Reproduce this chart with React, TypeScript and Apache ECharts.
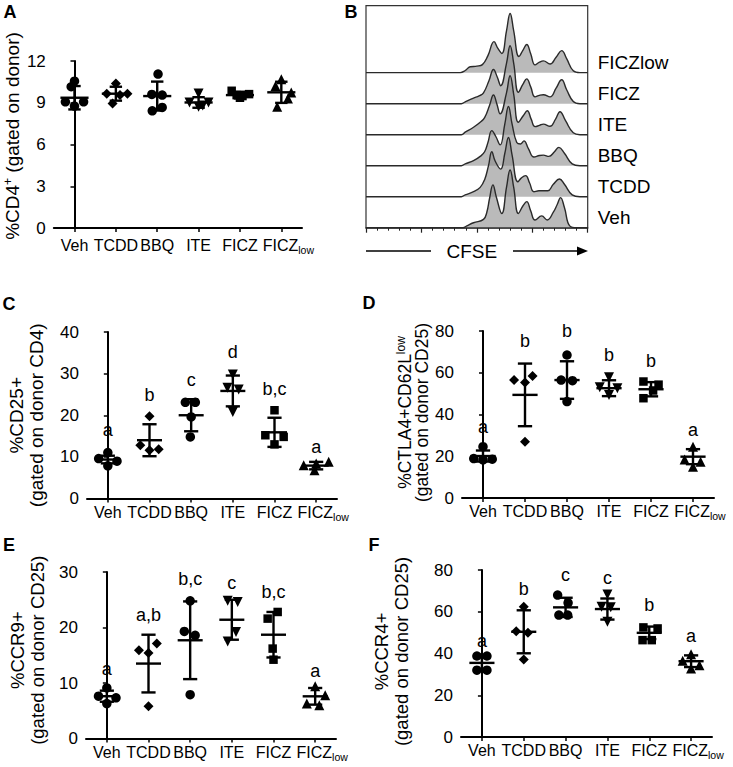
import React, { useEffect, useRef } from 'react';
import * as echarts from 'echarts';

const FONT = '"Liberation Sans", Arial, Helvetica, sans-serif';

// ---------- categories & markers ----------
const groups = ['Veh', 'TCDD', 'BBQ', 'ITE', 'FICZ', 'FICZlow'];
const groupSymbols = ['circle', 'diamond', 'circle', 'triangle', 'rect', 'triangle'];
const groupRotate = [0, 0, 0, 180, 0, 0];
const groupSizes = [9.5, 10, 9.5, 10, 8.5, 10];

// ---------- Panel A: %CD4+ (gated on donor) ----------
const cd4Values = [
  [10.55, 10.15, 9.07, 9.07, 8.76],
  [10.39, 9.65, 9.65, 9.55, 8.95],
  [11.06, 9.6, 9.55, 8.42, 8.66],
  [9.67, 9.02, 9.02, 8.71, 8.8],
  [9.86, 9.55, 9.48, 9.62, 9.36],
  [10.68, 10.2, 9.74, 9.31, 8.71],
];
const cd4Jitter = [
  [0, -0.08, -0.22, 0.22, 0],
  [0, -0.22, 0.28, 0.1, -0.08],
  [0.02, -0.13, 0.12, -0.12, 0.12],
  [0, -0.22, 0.24, 0, 0.1],
  [-0.2, -0.08, 0.06, 0.22, 0],
  [0, -0.14, 0.24, 0.16, -0.1],
];
const cd4Mean = [9.36, 9.65, 9.48, 9.02, 9.55, 9.75];
const cd4SD = [0.84, 0.5, 1.04, 0.38, 0.24, 0.76];

// ---------- Panel C: %CD25+ ----------
const cd25Values = [
  [11.04, 9.6, 8.96, 7.84],
  [19.76, 12.8, 11.84, 11.6],
  [23.1, 23.1, 19.6, 14.8],
  [29.8, 26.6, 26.2, 20.8],
  [21.2, 15.2, 14.8, 13.0],
  [8.0, 8.4, 8.8, 6.8],
];
const cd25Jitter = [
  [0, -0.22, 0.22, 0],
  [0, -0.22, 0.22, 0],
  [-0.14, 0.1, 0, -0.02],
  [0, -0.13, 0.14, 0],
  [0, -0.22, 0.22, 0],
  [-0.3, 0, 0.3, -0.04],
];
const cd25Mean = [9.36, 14.0, 20.0, 25.84, 15.9, 7.9];
const cd25SD = [0.92, 3.84, 3.85, 3.7, 3.5, 0.9];
const cd25Letters = ['a', 'b', 'c', 'd', 'b,c', 'a'];
const cd25LetterY = [16.4, 24.8, 28.4, 35.2, 26.2, 12.4];

// ---------- Panel D: %CTLA4+CD62Llow ----------
const ctlaValues = [
  [24.6, 18.9, 18.3, 18.6],
  [56.5, 55.3, 58.5, 27.0],
  [68.5, 56.5, 56.2, 46.2],
  [57.8, 53.0, 52.6, 49.4],
  [55.8, 54.3, 51.5, 47.8],
  [24.6, 18.5, 17.4, 15.0],
];
const ctlaJitter = [
  [0, -0.22, 0, 0.22],
  [-0.26, 0, 0.18, 0],
  [0, -0.14, 0.13, 0],
  [0, -0.22, 0.2, 0],
  [-0.18, 0.18, 0.05, -0.18],
  [0, -0.2, 0.18, 0],
];
const ctlaMean = [20.1, 49.4, 56.5, 52.6, 52.1, 19.8];
const ctlaSD = [2.65, 15.0, 9.0, 3.8, 3.4, 3.6];
const ctlaLetters = ['a', 'b', 'b', 'b', 'b', 'a'];
const ctlaLetterY = [34.1, 75.0, 79.8, 68.7, 65.5, 32.8];

// ---------- Panel E: %CCR9+ ----------
const ccr9Values = [
  [9.12, 7.62, 7.32, 6.3],
  [15.9, 15.4, 17.1, 5.8],
  [24.8, 19.3, 18.6, 7.9],
  [24.8, 24.6, 19.2, 17.5],
  [22.8, 21.6, 16.2, 14.2],
  [9.4, 7.8, 6.3, 6.0],
];
const ccr9Jitter = [
  [0, -0.2, 0.22, 0],
  [-0.23, 0, 0.2, 0],
  [0, -0.14, 0.12, 0],
  [-0.1, 0.14, 0.1, -0.1],
  [0.1, -0.14, -0.02, 0],
  [0, 0.24, -0.2, 0.1],
];
const ccr9Mean = [7.62, 13.5, 17.7, 21.4, 18.7, 7.6];
const ccr9SD = [1.0, 5.2, 7.0, 3.6, 4.1, 1.5];
const ccr9Letters = ['a', 'a,b', 'b,c', 'c', 'b,c', 'a'];
const ccr9LetterY = [12.5, 22.2, 28.8, 28.0, 26.4, 12.2];

// ---------- Panel F: %CCR4+ ----------
const ccr4Values = [
  [38.8, 38.8, 32.0, 32.0],
  [62.4, 50.7, 49.9, 37.1],
  [68.0, 64.3, 58.4, 58.4],
  [68.3, 62.4, 62.1, 55.2],
  [52.5, 52.0, 46.4, 46.4],
  [39.7, 36.5, 34.4, 32.8],
];
const ccr4Jitter = [
  [-0.12, 0.12, -0.12, 0.12],
  [0, -0.18, 0.1, 0],
  [-0.19, 0.06, -0.16, 0.05],
  [0, -0.14, 0.08, 0],
  [-0.14, 0.2, -0.16, 0.06],
  [0, -0.2, 0.2, 0],
];
const ccr4Mean = [35.5, 50.4, 62.1, 61.3, 49.9, 36.3];
const ccr4SD = [3.0, 10.3, 4.6, 5.05, 3.0, 2.8];
const ccr4Letters = ['a', 'b', 'c', 'c', 'b', 'a'];
const ccr4LetterY = [45.9, 70.7, 77.6, 76.0, 63.2, 48.3];

// ---------- Panel B: CFSE histograms (x: CFSE decades, h: relative count) ----------
const histNames = ['Veh', 'TCDD', 'BBQ', 'ITE', 'FICZ', 'FICZlow']; // bottom to top
const histVeh = [[0, 0], [1.75, 0], [1.82, 0.06], [1.94, 0.16], [2.12, 0.27], [2.18, 0.5], [2.23, 0.95], [2.29, 1.38], [2.35, 1.0], [2.45, 0.46], [2.535, 1.3], [2.6, 1.86], [2.665, 1.3], [2.75, 0.46], [2.83, 0.7], [2.9, 0.84], [2.97, 0.55], [3.05, 0.25], [3.17, 0.38], [3.27, 0.25], [3.38, 0.5], [3.45, 0.75], [3.51, 0.97], [3.58, 0.65], [3.68, 0.05], [3.8, 0], [4, 0]];
const histTCDD = [[0, 0], [1.72, 0], [1.79, 0.06], [1.94, 0.16], [2.06, 0.3], [2.14, 0.55], [2.21, 1.0], [2.27, 1.45], [2.33, 1.15], [2.43, 0.89], [2.505, 1.4], [2.57, 1.91], [2.635, 1.35], [2.74, 0.48], [2.8, 0.6], [2.88, 0.68], [2.95, 0.45], [3.03, 0.16], [3.12, 0.19], [3.2, 0.19], [3.28, 0.19], [3.38, 0.4], [3.49, 0.57], [3.58, 0.4], [3.72, 0.06], [3.86, 0], [4, 0]];
const histBBQ = [[0, 0], [1.72, 0], [1.79, 0.06], [1.94, 0.16], [2.06, 0.3], [2.14, 0.45], [2.2, 0.75], [2.27, 1.13], [2.34, 0.95], [2.42, 0.67], [2.505, 1.35], [2.57, 1.91], [2.635, 1.35], [2.72, 0.75], [2.79, 0.7], [2.85, 0.8], [2.93, 0.55], [3.03, 0.28], [3.13, 0.33], [3.2, 0.34], [3.3, 0.3], [3.4, 0.45], [3.48, 0.59], [3.58, 0.4], [3.72, 0.06], [3.86, 0], [4, 0]];
const histITE = [[0, 0], [1.72, 0], [1.79, 0.08], [1.94, 0.24], [2.06, 0.4], [2.14, 0.55], [2.23, 0.95], [2.3, 1.28], [2.36, 1.0], [2.42, 0.67], [2.535, 1.35], [2.6, 1.9], [2.665, 1.3], [2.75, 0.4], [2.84, 0.62], [2.91, 0.77], [2.98, 0.5], [3.05, 0.26], [3.13, 0.3], [3.2, 0.34], [3.32, 0.27], [3.42, 0.5], [3.5, 0.74], [3.6, 0.45], [3.74, 0.06], [3.86, 0], [4, 0]];
const histFICZ = [[0, 0], [1.72, 0], [1.79, 0.06], [1.94, 0.18], [2.04, 0.25], [2.12, 0.35], [2.22, 0.75], [2.3, 1.1], [2.37, 0.85], [2.43, 0.58], [2.535, 1.3], [2.6, 1.87], [2.665, 1.3], [2.75, 0.37], [2.83, 0.62], [2.9, 0.8], [2.97, 0.55], [3.05, 0.22], [3.13, 0.27], [3.2, 0.29], [3.32, 0.22], [3.43, 0.5], [3.53, 0.77], [3.62, 0.45], [3.74, 0.07], [3.86, 0], [4, 0]];
const histFICZlow = [[0, 0], [1.7, 0], [1.79, 0.07], [1.88, 0.19], [2.0, 0.21], [2.1, 0.26], [2.2, 0.55], [2.31, 1.0], [2.38, 0.78], [2.45, 0.62], [2.535, 1.35], [2.6, 1.91], [2.665, 1.35], [2.76, 0.52], [2.83, 0.72], [2.9, 0.91], [2.97, 0.62], [3.05, 0.25], [3.13, 0.34], [3.2, 0.38], [3.32, 0.28], [3.43, 0.5], [3.53, 0.71], [3.62, 0.45], [3.74, 0.06], [3.86, 0], [4, 0]];
const histograms = [histVeh, histTCDD, histBBQ, histITE, histFICZ, histFICZlow];

// ---------- layout (positions & styles) ----------
const panels: any[] = [
  { key: 'A', left: 51, top: 61, width: 251, height: 167, values: cd4Values, jitter: cd4Jitter, means: cd4Mean, sds: cd4SD, yMax: 12, yInterval: 3,
    yName: '{t|%CD4}{sup|+}{t| (gated on donor)}', nameGap: 27, namePad: [0, 0, 0, 17], lineHeight: 22, titleSize: 19, xMargin: 7, meanHalf: 0.34, capHalf: 0.15 },
  { key: 'C', left: 87, top: 332, width: 250, height: 166.5, values: cd25Values, jitter: cd25Jitter, means: cd25Mean, sds: cd25SD, yMax: 40, yInterval: 10,
    yName: '{t|%CD25+}\n{t|(gated on donor CD4)}', nameGap: 41, namePad: [0, 0, 0, 0], lineHeight: 20, titleSize: 19, xMargin: 3.5, meanHalf: 0.3, capHalf: 0.17, letters: cd25Letters, letterY: cd25LetterY },
  { key: 'D', left: 462, top: 331, width: 252, height: 167, values: ctlaValues, jitter: ctlaJitter, means: ctlaMean, sds: ctlaSD, yMax: 80, yInterval: 20,
    yName: '{t|%CTLA4+CD62L}{sup|low}\n{t|(gated on donor CD25)}', nameGap: 27, namePad: [0, 0, 0, 4], lineHeight: 17, titleSize: 17.5, xMargin: 3.5, meanHalf: 0.3, capHalf: 0.17, letters: ctlaLetters, letterY: ctlaLetterY },
  { key: 'E', left: 86, top: 572, width: 250, height: 166.5, values: ccr9Values, jitter: ccr9Jitter, means: ccr9Mean, sds: ccr9SD, yMax: 30, yInterval: 10,
    yName: '{t|%CCR9+}\n{t|(gated on donor CD25)}', nameGap: 39, namePad: [0, 0, 0, 10], lineHeight: 20, titleSize: 18.5, xMargin: 3.5, meanHalf: 0.3, capHalf: 0.17, letters: ccr9Letters, letterY: ccr9LetterY },
  { key: 'F', left: 461, top: 570, width: 251, height: 167, values: ccr4Values, jitter: ccr4Jitter, means: ccr4Mean, sds: ccr4SD, yMax: 80, yInterval: 20,
    yName: '{t|%CCR4+}\n{t|(gated on donor CD25)}', nameGap: 50, namePad: [0, 0, 0, 4], lineHeight: 20, titleSize: 18.5, xMargin: 3.5, meanHalf: 0.3, capHalf: 0.17, letters: ccr4Letters, letterY: ccr4LetterY },
];

const panelLetters = [
  { t: 'A', x: 10, y: 12 }, { t: 'B', x: 351, y: 12 },
  { t: 'C', x: 9, y: 304 }, { t: 'D', x: 369, y: 303 },
  { t: 'E', x: 9, y: 545 }, { t: 'F', x: 374, y: 545 },
];

function buildOption() {
  const opt: any = {
    animation: false,
    backgroundColor: '#fff',
    textStyle: { fontFamily: FONT, color: '#000' },
    grid: [], xAxis: [], yAxis: [], series: [], graphic: [],
  };

  const axisLine = { show: true, lineStyle: { color: '#000', width: 2 } };

  panels.forEach((p) => {
    const gi = opt.grid.length;
    opt.grid.push({ left: p.left, top: p.top, width: p.width, height: p.height });
    opt.xAxis.push({
      type: 'category', gridIndex: gi, data: groups, boundaryGap: true,
      axisLine, axisTick: { show: true, alignWithLabel: true, length: 4, lineStyle: { color: '#000', width: 1.5 } },
      axisLabel: {
        interval: 0, margin: p.xMargin, color: '#000', fontSize: 16, fontFamily: FONT,
        formatter: (v: string) => (v === 'FICZlow' ? '{p|}{m|FICZ}{s|low}' : `{m|${v}}`),
        rich: {
          p: { width: 14, lineHeight: 20 },
          m: { fontSize: 16, lineHeight: 20, color: '#000', fontFamily: FONT },
          s: { fontSize: 10.5, lineHeight: 11, padding: [9, 0, 0, 0], color: '#000', fontFamily: FONT },
        },
      },
      splitLine: { show: false },
    });
    const valX = opt.xAxis.length;
    opt.xAxis.push({ type: 'value', gridIndex: gi, min: -0.5, max: 5.5, show: false, splitLine: { show: false } });
    const yi = opt.yAxis.length;
    opt.yAxis.push({
      type: 'value', gridIndex: gi, min: 0, max: p.yMax, interval: p.yInterval,
      name: p.yName, nameLocation: 'middle', nameRotate: 90, nameGap: p.nameGap,
      nameTextStyle: {
        fontSize: p.titleSize, color: '#000', fontFamily: FONT, padding: p.namePad, lineHeight: p.lineHeight,
        rich: {
          t: { fontSize: p.titleSize, lineHeight: p.lineHeight, color: '#000', fontFamily: FONT },
          sup: { fontSize: 12, lineHeight: 12, padding: [0, 0, 9, 0], color: '#000', fontFamily: FONT },
        },
      },
      axisLine, axisTick: { show: true, length: 4, lineStyle: { color: '#000', width: 1.5 } },
      axisLabel: { margin: 8, fontSize: 17, color: '#000', fontFamily: FONT },
      splitLine: { show: false },
    });

    const pts: any[] = [];
    p.values.forEach((vals: number[], i: number) => {
      vals.forEach((v, j) => {
        pts.push({ value: [i + p.jitter[i][j], v], symbol: groupSymbols[i], symbolRotate: groupRotate[i], symbolSize: groupSizes[i] });
      });
    });
    opt.series.push({ type: 'scatter', xAxisIndex: valX, yAxisIndex: yi, data: pts, itemStyle: { color: '#000', opacity: 1 }, z: 3 });

    const mh = p.meanHalf, ch = p.capHalf;
    opt.series.push({
      type: 'custom', xAxisIndex: valX, yAxisIndex: yi, z: 4,
      data: p.means.map((m: number, i: number) => [i, m, p.sds[i]]),
      renderItem: (params: any, api: any) => {
        const x = api.value(0), m = api.value(1), s = api.value(2);
        const c = api.coord([x, m]);
        const hi = api.coord([x, m + s]);
        const lo = api.coord([x, m - s]);
        const hm = api.size([mh, 0])[0];
        const hc = api.size([ch, 0])[0];
        const style = { stroke: '#000', lineWidth: 2.4, fill: null };
        return {
          type: 'group',
          children: [
            { type: 'line', shape: { x1: c[0] - hm, y1: c[1], x2: c[0] + hm, y2: c[1] }, style },
            { type: 'line', shape: { x1: c[0], y1: hi[1], x2: c[0], y2: lo[1] }, style },
            { type: 'line', shape: { x1: c[0] - hc, y1: hi[1], x2: c[0] + hc, y2: hi[1] }, style },
            { type: 'line', shape: { x1: c[0] - hc, y1: lo[1], x2: c[0] + hc, y2: lo[1] }, style },
          ],
        };
      },
    });

    if (p.letters) {
      const letters = p.letters;
      opt.series.push({
        type: 'custom', xAxisIndex: valX, yAxisIndex: yi, z: 5, silent: true,
        data: p.letterY.map((y: number, i: number) => [i, y]),
        renderItem: (params: any, api: any) => {
          const c = api.coord([api.value(0), api.value(1)]);
          return {
            type: 'text', x: c[0], y: c[1],
            style: {
              text: letters[params.dataIndex], fill: '#000', fontSize: 18, fontFamily: FONT,
              align: 'center', verticalAlign: 'middle', textAlign: 'center', textVerticalAlign: 'middle',
            },
          };
        },
      });
    }
  });

  // Panel B
  const gb = opt.grid.length;
  opt.grid.push({ left: 366, top: 5.7, width: 221.7, height: 222, show: true, borderColor: '#333', borderWidth: 1.2 });
  const xb = opt.xAxis.length;
  opt.xAxis.push({
    type: 'value', gridIndex: gb, min: 0, max: 4, interval: 1,
    name: 'CFSE', nameLocation: 'middle', nameGap: 14,
    nameTextStyle: { fontSize: 19, color: '#000', fontFamily: FONT, padding: [0, 10, 0, 0] },
    axisLine: { show: true, lineStyle: { color: '#222', width: 1.5 } },
    axisTick: { show: true, length: 5, lineStyle: { color: '#222', width: 1.2 } },
    minorTick: { show: true, splitNumber: 5, length: 3, lineStyle: { color: '#222', width: 1 } },
    axisLabel: { show: false }, splitLine: { show: false },
  });
  const yb = opt.yAxis.length;
  opt.yAxis.push({
    type: 'value', gridIndex: gb, position: 'right', min: 0, max: 7.16, interval: 1,
    axisLine: { show: false }, axisTick: { show: false }, splitLine: { show: false },
    axisLabel: {
      margin: 10, fontSize: 19, lineHeight: 20, color: '#000', fontFamily: FONT, verticalAlign: 'bottom',
      formatter: (v: number) => (Number.isInteger(v) && v >= 0 && v < histNames.length ? histNames[v] : ''),
    },
  });
  for (let k = histograms.length - 1; k >= 0; k--) {
    opt.series.push({
      type: 'line', xAxisIndex: xb, yAxisIndex: yb, name: histNames[k],
      data: histograms[k].map(([x, h]) => [x, k + h]),
      smooth: 0.45, symbol: 'none',
      lineStyle: { color: '#2a2a2a', width: 1.4 },
      areaStyle: { color: '#8c8c8c', opacity: 0.6, origin: k },
    });
  }

  // graphics: panel letters & CFSE arrow
  panelLetters.forEach((l) => {
    opt.graphic.push({
      type: 'text', x: l.x, y: l.y,
      style: { text: l.t, fontSize: 18, fontWeight: 'bold', fontFamily: FONT, fill: '#000', align: 'center', verticalAlign: 'middle', textAlign: 'center', textVerticalAlign: 'middle' },
    });
  });
  opt.graphic.push({ type: 'line', shape: { x1: 366, y1: 251, x2: 431, y2: 251 }, style: { stroke: '#000', lineWidth: 1.5 } });
  opt.graphic.push({ type: 'line', shape: { x1: 513, y1: 251, x2: 579, y2: 251 }, style: { stroke: '#000', lineWidth: 1.5 } });
  opt.graphic.push({ type: 'polygon', shape: { points: [[577, 246.5], [588, 251], [577, 255.5]] }, style: { fill: '#000' } });

  return opt;
}

export default function App() {
  const ref = useRef<HTMLDivElement>(null);
  useEffect(() => {
    if (!ref.current) return;
    const chart = echarts.init(ref.current, null, { renderer: 'svg' });
    chart.setOption(buildOption());
    return () => chart.dispose();
  }, []);
  return <div ref={ref} style={{ position: 'fixed', left: 0, top: 0, width: 733, height: 767, background: '#fff' }} />;
}
